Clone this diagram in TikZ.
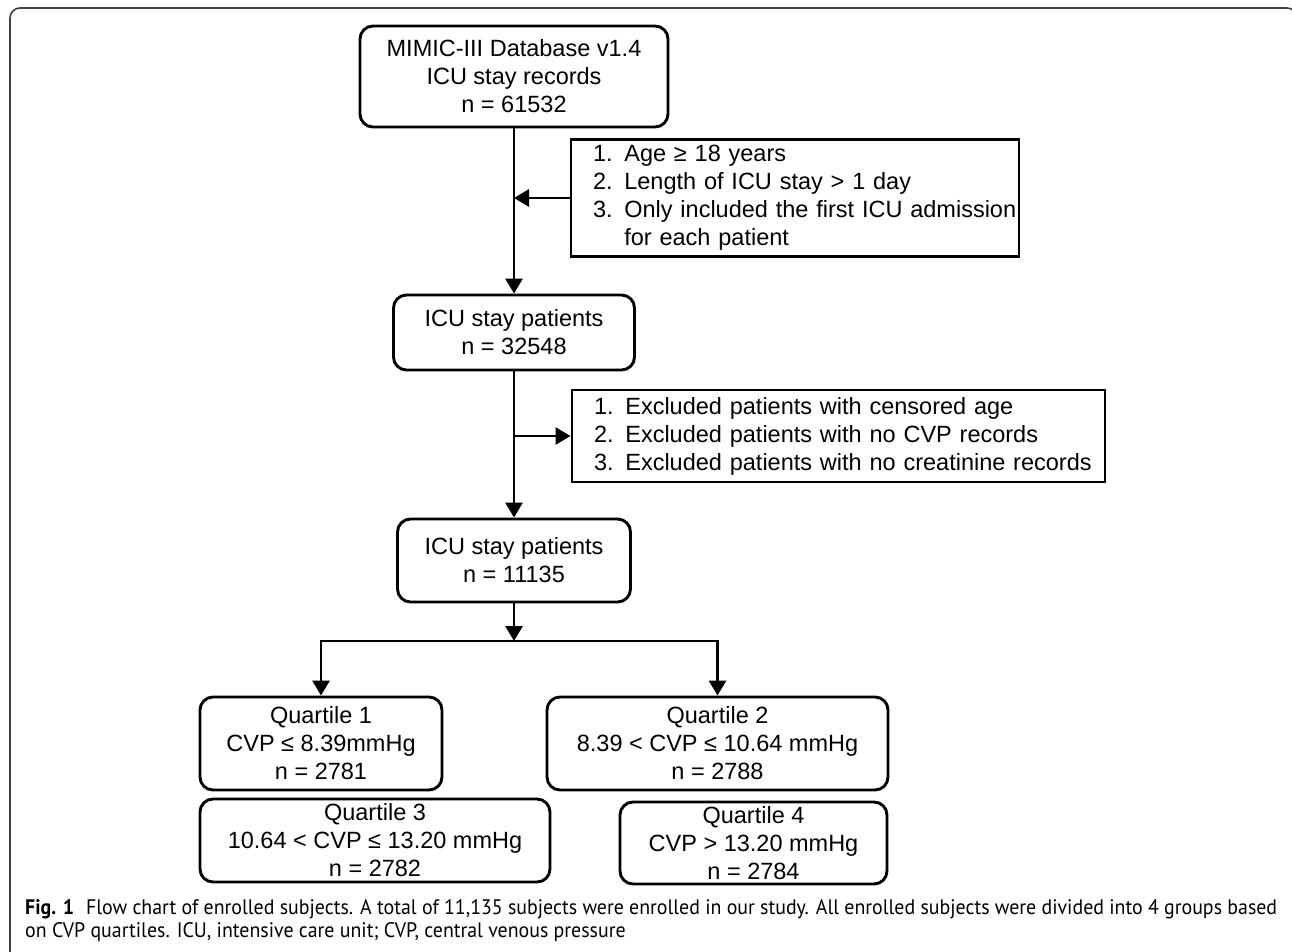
\documentclass[tikz,border=0pt]{standalone}
\usepackage{fontspec}
\setmainfont{Liberation Sans}
\newfontfamily\capfont{PT Sans}
\usetikzlibrary{arrows.meta}
\newlength\capw
\newcommand\capone{\textbf{Fig. 1}\hspace{0.6em}Flow chart of enrolled subjects. A total of 11,135 subjects were enrolled in our study. All enrolled subjects were divided into 4 groups based}
\newcommand\captwo{on CVP quartiles. ICU, intensive care unit; CVP, central venous pressure}
\begin{document}
\settowidth\capw{\capfont\fontsize{21}{23}\selectfont\capone}%
\pgfmathsetmacro\capsc{1252/\capw}%
\begin{tikzpicture}[x=1pt,y=-1pt,
  boxfont/.style={font=\fontsize{23.5}{28}\selectfont},
  box/.style={draw,line width=2.9pt,rounded corners=13pt,align=center,inner sep=0pt,boxfont},
  ebox/.style={draw,line width=2.9pt,align=left,inner sep=0pt,boxfont},
  arr/.style={line width=2.9pt,-{Triangle[width=17pt,length=15pt]}},
  frame/.style={line width=1.6pt,black!75,rounded corners=10pt},
  capnode/.style={anchor=base west,inner sep=0pt,font=\capfont\fontsize{21}{23}\selectfont}]
\useasboundingbox (0,0) rectangle (1292,952);
\draw[frame] (10,960) -- (10,8) -- (1297,8) -- (1297,960);

\node[box,minimum width=308pt,minimum height=101pt] (top) at (514,76.5)
  {MIMIC-III Database v1.4\\ICU stay records\\n = 61532};
\node[ebox,minimum width=448pt,minimum height=117pt,text width=404pt] (e1) at (795,198)
  {\mbox{1. Age ≥ 18 years}\\\mbox{2. Length of ICU stay > 1 day}\\\mbox{3. Only included the first ICU admission}\\\mbox{\hphantom{3. }for each patient}};
\node[box,minimum width=241pt,minimum height=75pt] (b2) at (514,332.5)
  {ICU stay patients\\n = 32548};
\node[ebox,minimum width=533pt,minimum height=92pt,text width=489pt] (e2) at (838.5,436)
  {\mbox{1. Excluded patients with censored age}\\\mbox{2. Excluded patients with no CVP records}\\\mbox{3. Excluded patients with no creatinine records}};
\node[box,minimum width=233pt,minimum height=83pt] (b3) at (514,560.5)
  {ICU stay patients\\n = 11135};
\node[box,minimum width=242pt,minimum height=93pt] (q1) at (321,743.5)
  {Quartile 1\\CVP ≤ 8.39mmHg\\n = 2781};
\node[box,minimum width=341pt,minimum height=93pt] (q2) at (717.5,743.5)
  {Quartile 2\\8.39 < CVP ≤ 10.64 mmHg\\n = 2788};
\node[box,minimum width=350pt,minimum height=83pt] (q3) at (375,840.5)
  {Quartile 3\\10.64 < CVP ≤ 13.20 mmHg\\n = 2782};
\node[box,minimum width=267pt,minimum height=82pt] (q4) at (753.5,843)
  {Quartile 4\\CVP > 13.20 mmHg\\n = 2784};

\coordinate (sp) at (516,641);
\draw[arr] (top.south) -- (b2.north);
\draw[arr] (e1.west) -- (e1.west -| top.south);
\draw[arr] (b2.south) -- (b3.north);
\draw[arr] (b2.south |- e2.west) -- (e2.west);
\draw[arr] (b3.south) -- (b3.south |- sp);
\draw[arr] (b3.south |- sp) -| (q1.north);
\draw[arr] (b3.south |- sp) -| (q2.north);

\node[capnode] (cap1) at (25,914) {\scalebox{\capsc}[1]{\capone}};
\node[capnode] (cap2) at (25,937) {\scalebox{\capsc}[1]{\captwo}};
\end{tikzpicture}
\end{document}
